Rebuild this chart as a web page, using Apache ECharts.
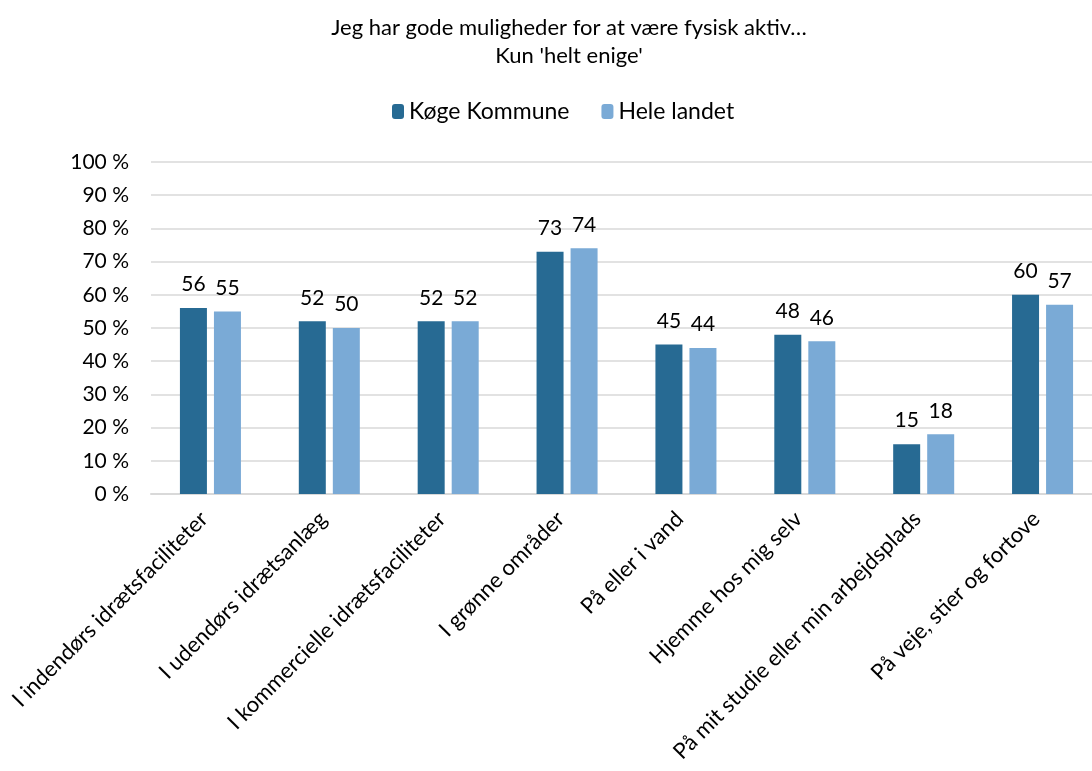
<!DOCTYPE html>
<html>
<head>
    <meta charset="utf-8" />
    <script type="text/javascript" src="https://cdn.jsdelivr.net/npm/echarts@6/dist/echarts.min.js"></script>
    <style>
      body { margin: 0; background: #fff; overflow: hidden; }
      /* grid runs a bit past the right edge, like the original */
      #main { width: 1102px; height: 771px; }
    </style>
</head>
<body>
<div id="main"></div>
<script>
// data
var categories = [
  'I indendørs idrætsfaciliteter',
  'I udendørs idrætsanlæg',
  'I kommercielle idrætsfaciliteter',
  'I grønne områder',
  'På eller i vand',
  'Hjemme hos mig selv',
  'På mit studie eller min arbejdsplads',
  'På veje, stier og fortove'
];
var koge = [56, 52, 52, 73, 45, 48, 15, 60];
var heleLandet = [55, 50, 52, 74, 44, 46, 18, 57];
var seriesNames = ['Køge Kommune', 'Hele landet'];

var font = 'Lato, "Open Sans", sans-serif';
var myChart = echarts.init(document.getElementById('main'));

var option = {
  backgroundColor: '#fff',
  textStyle: { fontFamily: font, color: '#000' },
  title: {
    text: 'Jeg har gode muligheder for at være fysisk aktiv…\nKun \'helt enige\'',
    left: 564,
    textAlign: 'center',
    top: 9,
    textStyle: { fontFamily: font, fontSize: 22, fontWeight: 'normal', color: '#000', lineHeight: 28 }
  },
  legend: {
    top: 95,
    left: 387,
    itemWidth: 12,
    itemHeight: 15,
    itemGap: 32,
    textStyle: { fontFamily: font, fontSize: 23, color: '#000' },
    data: seriesNames
  },
  grid: { left: 151, right: 0, top: 162, bottom: 277, containLabel: false },
  xAxis: {
    type: 'category',
    data: categories,
    axisLine: { lineStyle: { color: '#d9d9d9', width: 2 } },
    axisTick: { show: false },
    axisLabel: {
      interval: 0,
      rotate: 45,
      margin: 15,
      padding: [0, 9, 0, 0],
      fontFamily: font,
      fontSize: 22,
      color: '#000'
    }
  },
  yAxis: {
    type: 'value',
    min: 0,
    max: 100,
    interval: 10,
    axisLine: { show: false },
    axisTick: { show: false },
    splitLine: { lineStyle: { color: '#d9d9d9', width: 1.5 } },
    axisLabel: {
      formatter: '{value} %',
      fontFamily: font,
      fontSize: 21,
      color: '#000',
      margin: 22
    }
  },
  series: [
    {
      name: seriesNames[0],
      type: 'bar',
      data: koge,
      barWidth: 27,
      barGap: '26%',
      itemStyle: { color: '#276a93' },
      label: { show: true, position: 'top', distance: 13, fontFamily: font, fontSize: 21, color: '#000' }
    },
    {
      name: seriesNames[1],
      type: 'bar',
      data: heleLandet,
      barWidth: 27,
      itemStyle: { color: '#7aaad6' },
      label: { show: true, position: 'top', distance: 13, fontFamily: font, fontSize: 21, color: '#000' }
    }
  ],
  animation: false
};

myChart.setOption(option);
</script>
</body>
</html>
